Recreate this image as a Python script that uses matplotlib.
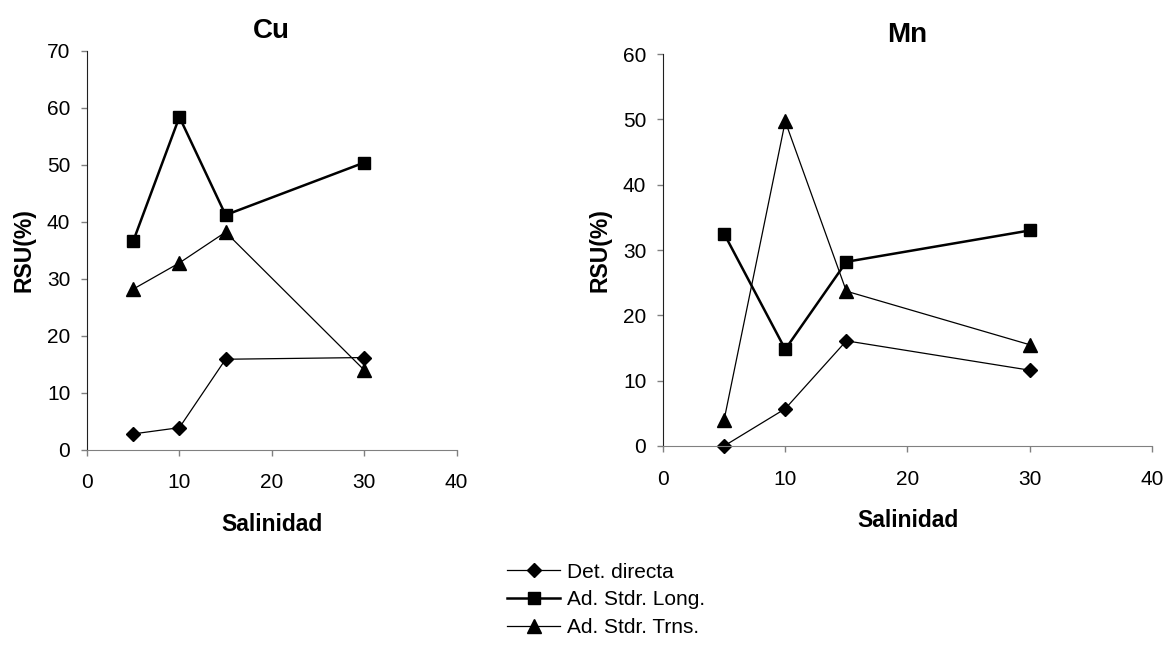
import matplotlib
matplotlib.use("Agg")
import matplotlib.pyplot as plt

plt.rcParams.update({
    "font.family": ["Liberation Sans", "DejaVu Sans"],
    "font.size": 15,
    "xtick.color": "#808080", "ytick.color": "#808080",
    "xtick.labelcolor": "black", "ytick.labelcolor": "black",
})

salinidad = [5, 10, 15, 30]

cu_directa = [2.8, 3.9, 15.9, 16.2]
cu_long = [36.6, 58.4, 41.2, 50.4]
cu_trns = [28.2, 32.8, 38.2, 14.0]

mn_directa = [0.0, 5.7, 16.1, 11.6]
mn_long = [32.5, 14.8, 28.2, 33.0]
mn_trns = [4.0, 49.7, 23.7, 15.5]

labels = ["Det. directa", "Ad. Stdr. Long.", "Ad. Stdr. Trns."]


def panel(ax, title, directa, long_, trns, ymax):
    ax.plot(salinidad, directa, color="black", lw=0.9, marker="D", ms=7.5,
            label=labels[0], clip_on=False)
    ax.plot(salinidad, long_, color="black", lw=1.8, marker="s", ms=8,
            label=labels[1], clip_on=False)
    ax.plot(salinidad, trns, color="black", lw=0.9, marker="^", ms=9.5,
            label=labels[2], clip_on=False)
    ax.set_xlim(0, 40)
    ax.set_ylim(0, ymax)
    ax.set_xticks(range(0, 41, 10))
    ax.set_yticks(range(0, ymax + 1, 10))
    for s in ("top", "right"):
        ax.spines[s].set_visible(False)
    ax.spines["left"].set_color("#202020")
    ax.spines["bottom"].set_color("#808080")
    ax.tick_params(axis="x", length=4, width=1, labelsize=15, pad=13)
    ax.tick_params(axis="y", length=4, width=1, labelsize=15, pad=8)
    ax.set_title(title, fontsize=20, fontweight="bold", pad=9)
    ax.set_xlabel("Salinidad", fontsize=16.5, fontweight="bold", labelpad=15)
    ax.set_ylabel("RSU(%)", fontsize=16.5, fontweight="bold", labelpad=8)


fig = plt.figure(figsize=(11.66, 6.52), dpi=100)
ax1 = fig.add_axes([0.0746, 0.310, 0.317, 0.612])
ax2 = fig.add_axes([0.5686, 0.316, 0.4194, 0.601])

panel(ax1, "Cu", cu_directa, cu_long, cu_trns, 70)
panel(ax2, "Mn", mn_directa, mn_long, mn_trns, 60)

handles, _ = ax1.get_legend_handles_labels()
fig.legend(handles, labels, loc="upper left", bbox_to_anchor=(0.435, 0.137),
           frameon=False, fontsize=15, handlelength=2.55, handletextpad=0.34,
           labelspacing=0.42, borderaxespad=0, borderpad=0)

fig.savefig("out.png", dpi=100, facecolor="white")
